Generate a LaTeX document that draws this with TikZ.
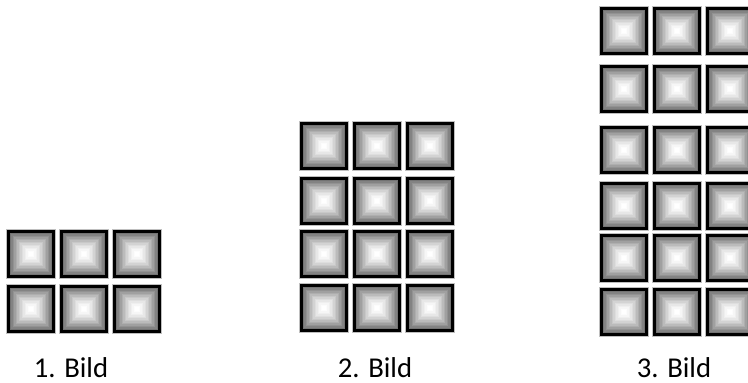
\documentclass[tikz,border=0pt]{standalone}
\usepackage{fontspec}
\setmainfont{Carlito}
\newcommand\mytile[2]{%
  \fill[black!25] (#1-0.8,#2-0.8) rectangle (#1+48.8,#2+48.8);
  \fill[black] (#1,#2) rectangle (#1+48,#2+48);
  \foreach \i in {0,...,13}{%
    \pgfmathsetmacro\ins{2.8+1.5*\i}%
    \pgfmathsetmacro\shd{55*(1-\i/13)^1.5}%
    \fill[black!\shd] (#1+\ins,#2+\ins) rectangle (#1+48-\ins,#2+48-\ins);
  }%
}
\tikzset{caption/.style={anchor=base,inner sep=0pt,font=\fontsize{28.7}{34}\selectfont}}
\begin{document}
\begin{tikzpicture}[x=1pt,y=-1pt]
\useasboundingbox (0,0) rectangle (748,383);
\clip (0,0) rectangle (748,383);
% Bild 1
\foreach \x in {7,60,113}{\foreach \y in {230,285}{\mytile{\x}{\y}}}
% Bild 2
\foreach \x in {300,353,406}{\foreach \y in {122,177,230,284}{\mytile{\x}{\y}}}
% Bild 3
\foreach \x in {600,653,706}{\foreach \y in {7,65,126,182,234,288}{\mytile{\x}{\y}}}
\node[caption] (c1) at (71,377) {1. Bild};
\node[caption] (c2) at (375,377) {2. Bild};
\node[caption] (c3) at (674,377) {3. Bild};
\end{tikzpicture}
\end{document}
